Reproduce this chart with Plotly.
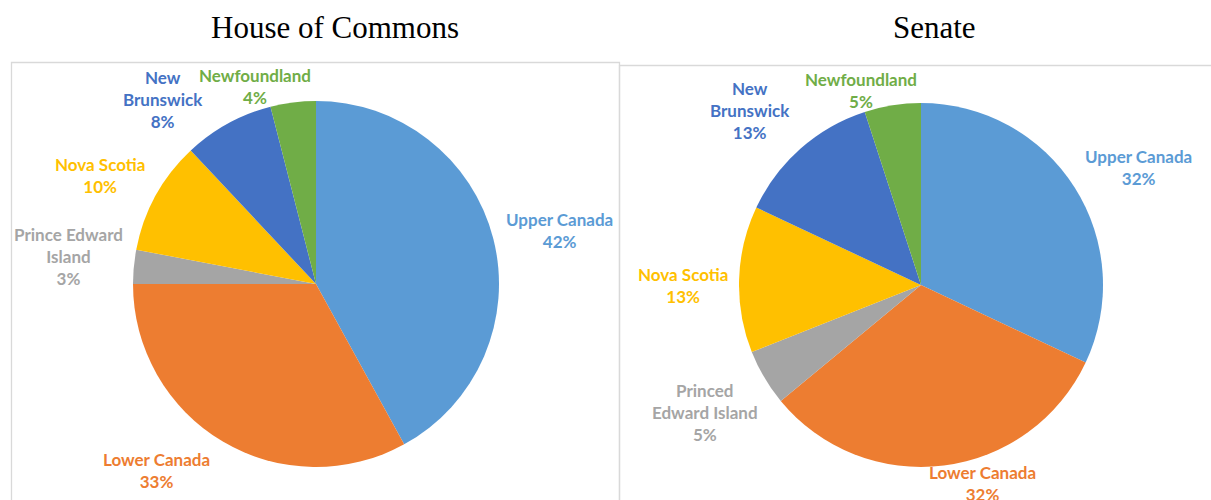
import math
import plotly.graph_objects as go

W, H = 1211, 500

# ---- data ----
regions = ["Upper Canada", "Lower Canada", "Prince Edward Island", "Nova Scotia",
           "New Brunswick", "Newfoundland"]
commons_pct = [42, 33, 3, 10, 8, 4]
senate_pct = [32, 32, 5, 13, 13, 5]
commons_labels = ["Upper Canada", "Lower Canada", "Prince Edward<br>Island", "Nova Scotia",
                  "New<br>Brunswick", "Newfoundland"]
senate_labels = ["Upper Canada", "Lower Canada", "Princed<br>Edward Island", "Nova Scotia",
                 "New<br>Brunswick", "Newfoundland"]
titles = ["House of Commons", "Senate"]
colors = ["#5B9BD5", "#ED7D31", "#A5A5A5", "#FFC000", "#4472C4", "#70AD47"]

# ---- layout helpers (label placement: radial factor and angular nudge, deg) ----
commons_label_r = [1.36, 1.34, 1.36, 1.32, 1.31, 1.13]
commons_label_nudge = [2, 10, 1, -2, -11, -10]
senate_label_r = [1.36, 1.14, 1.38, 1.31, 1.34, 1.12]
senate_label_nudge = [4, -10, 0, -2, -3, -8]

dom_commons = dict(x=[133 / W, 499 / W], y=[33 / H, 399 / H])
dom_senate = dict(x=[739 / W, 1103 / W], y=[33 / H, 397 / H])

fig = go.Figure()
annotations = []


def add_pie(values, labels, domain, lab_r, lab_nudge, title, title_x):
    fig.add_trace(go.Pie(
        labels=regions, values=values, sort=False, direction="clockwise", rotation=0,
        marker=dict(colors=colors, line=dict(width=0)),
        textinfo="none", hoverinfo="label+percent", domain=domain, showlegend=False,
    ))
    cx = (domain["x"][0] + domain["x"][1]) / 2 * W
    cy = (1 - (domain["y"][0] + domain["y"][1]) / 2) * H
    r = min((domain["x"][1] - domain["x"][0]) * W, (domain["y"][1] - domain["y"][0]) * H) / 2
    total = sum(values)
    cum = 0
    for i, v in enumerate(values):
        mid = (cum + v / 2) / total * 360 + lab_nudge[i]
        cum += v
        a = math.radians(mid)
        d = r * lab_r[i]
        px = cx + d * math.sin(a)
        py = cy - d * math.cos(a)
        annotations.append(dict(
            x=px / W, y=1 - py / H, xref="paper", yref="paper",
            text=f"{labels[i]}<br>{v}%", showarrow=False,
            xanchor="center", yanchor="middle", align="center",
            font=dict(family="Lato", size=17, color=colors[i], weight="bold"),
        ))
    annotations.append(dict(
        x=title_x / W, y=1 - 27 / H, xref="paper", yref="paper", text=title,
        showarrow=False, xanchor="center", yanchor="middle",
        font=dict(family="Liberation Serif", size=31, color="#000000"),
    ))


add_pie(commons_pct, commons_labels, dom_commons, commons_label_r, commons_label_nudge,
        titles[0], 335)
add_pie(senate_pct, senate_labels, dom_senate, senate_label_r, senate_label_nudge,
        titles[1], 934)

shapes = [
    dict(type="rect", xref="paper", yref="paper", x0=11.5 / W, x1=619.5 / W,
         y0=-0.05, y1=1 - 62.5 / H, line=dict(color="#D9D9D9", width=1.3)),
    dict(type="rect", xref="paper", yref="paper", x0=619.5 / W, x1=1.05,
         y0=-0.05, y1=1 - 65.5 / H, line=dict(color="#D9D9D9", width=1.3)),
]

fig.update_layout(
    width=W, height=H, margin=dict(l=0, r=0, t=0, b=0),
    paper_bgcolor="white", plot_bgcolor="white",
    annotations=annotations, shapes=shapes,
)

fig.write_html("out.html")
